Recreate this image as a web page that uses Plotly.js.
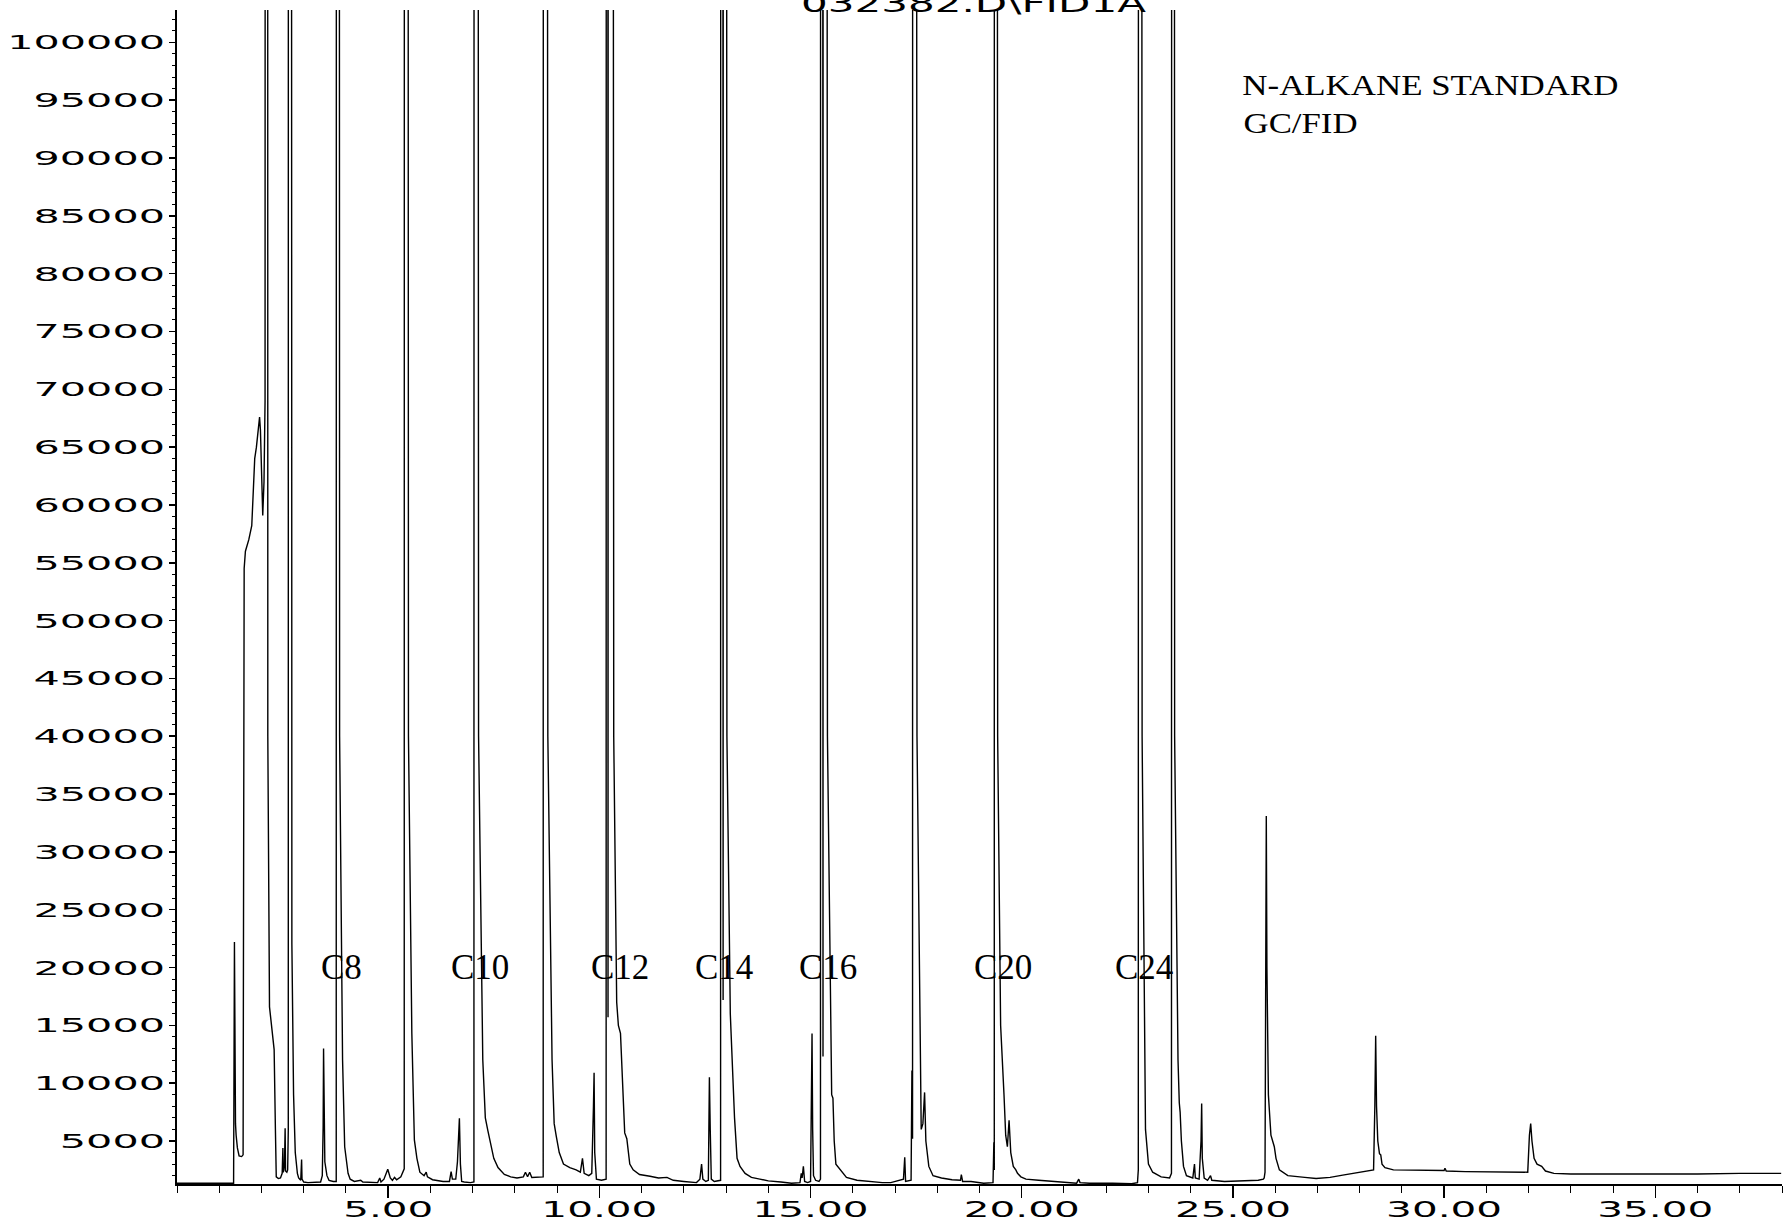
<!DOCTYPE html>
<html>
<head>
<meta charset="utf-8">
<script src="https://cdn.plot.ly/plotly-3.0.1.min.js"></script>
<style>
html,body{margin:0;padding:0;background:#fff;}
#chart{width:1785px;height:1225px;}
</style>
</head>
<body>
<div id="chart"></div>
<script>
// Retention time (min)
const retentionTime = [
0.00,1.34,1.36,1.375,1.385,1.40,1.43,1.47,1.53,1.565,1.58,1.59,1.62,1.70,1.77,1.80,1.84,1.88,1.93,1.955,1.975,2.00,2.03,2.06,2.085,2.125,2.15,2.19,2.30,2.33,2.35,
2.40,2.45,2.49,2.50,2.507,2.515,2.53,2.545,2.56,2.57,2.60,2.62,2.635,2.645,2.70,2.72,2.76,2.80,2.85,2.88,2.93,2.95,2.96,3.00,3.10,3.30,3.40,3.44,3.46,3.47,3.48,3.50,3.55,3.60,3.70,
3.77,3.79,3.85,3.92,3.97,4.05,4.10,4.20,4.35,4.40,4.60,4.75,4.80,4.83,4.90,4.99,5.05,5.10,5.15,5.20,5.30,5.38,
5.40,5.48,5.56,5.62,5.68,5.75,5.85,5.90,5.93,6.05,6.30,6.45,6.49,6.52,6.60,6.64,6.686,6.71,6.74,6.80,6.95,7.03,
7.05,7.14,7.24,7.30,7.36,7.42,7.50,7.60,7.75,7.90,8.05,8.20,8.25,8.30,8.35,8.40,8.60,8.67,
8.69,8.78,8.88,8.93,8.98,9.05,9.15,9.30,9.45,9.55,9.60,9.64,9.75,9.82,9.86,9.875,9.89,9.93,10.05,10.16,
10.18,10.205,10.23,10.34,10.41,10.45,10.50,10.55,10.60,10.65,10.72,10.80,10.95,11.20,11.40,11.60,11.75,12.00,12.30,12.38,12.42,12.45,12.52,12.58,12.605,12.625,12.65,12.72,12.87,
12.89,12.93,12.95,13.02,13.10,13.16,13.20,13.26,13.33,13.45,13.60,13.80,14.00,14.30,14.55,14.75,14.78,14.80,14.83,14.86,14.93,15.00,15.02,15.035,15.05,15.07,15.12,15.20,15.235,
15.25,15.295,15.31,15.40,15.50,15.53,15.56,15.60,15.66,15.72,15.85,16.10,16.40,16.70,16.90,17.00,17.20,17.23,17.25,17.38,17.40,17.415,
17.43,17.52,17.62,17.66,17.70,17.73,17.80,17.90,18.10,18.35,18.55,18.57,18.60,18.80,19.10,19.32,19.34,19.35,
19.36,19.43,19.50,19.58,19.62,19.66,19.70,19.74,19.80,19.86,19.90,19.98,20.10,20.40,20.80,21.30,21.35,21.38,21.60,21.90,22.10,22.15,22.60,22.74,22.76,
22.78,22.85,22.93,23.00,23.10,23.30,23.50,23.545,
23.575,23.62,23.70,23.73,23.75,23.78,23.83,23.90,24.05,24.09,24.11,24.20,24.245,24.26,24.275,24.32,24.40,24.47,24.50,24.80,25.20,25.60,25.72,
25.74,25.76,25.775,25.79,25.805,25.84,25.90,25.95,25.98,26.02,26.10,26.30,26.50,26.70,26.97,27.30,27.60,27.90,28.20,28.33,28.36,28.38,28.40,28.43,28.47,28.50,28.53,28.60,28.80,29.50,
30.00,30.02,30.05,30.50,31.20,31.90,31.98,32.02,32.05,32.08,32.13,32.20,32.31,32.40,32.60,33.00,34.00,35.00,36.00,37.00,37.98
];
// FID signal (counts); off-scale peaks given large estimated apex values
const fidSignal = [
1350,1350,22200,9000,6500,5500,4400,3700,3650,3800,40000,54500,56000,57000,58200,61000,64000,65000,67000,67600,66500,62000,59100,62000,69000,900000,40000,16600,12900,6000,1900,
1750,1800,2200,3600,4400,2300,2500,3000,6100,2400,2300,2500,6000,900000,60000,22000,9000,4000,2200,1800,1600,3400,1700,1450,1400,1400,1450,2000,6200,13000,6000,3200,2000,1600,1500,
1500,900000,40000,12000,4500,2200,1700,1500,1600,1450,1400,1400,1800,1450,1700,2550,1800,1600,1850,1650,1900,2600,
900000,40000,14300,5100,3500,2300,2000,2300,1900,1650,1500,1500,2350,1700,1700,3200,6960,3000,1500,1450,1400,1450,
900000,40000,12000,7000,5900,4800,3500,2700,2100,1900,1800,1900,2300,1900,2300,1850,1850,1900,
900000,40000,12000,6500,5400,4000,3000,2700,2500,2300,3500,2200,2000,2200,8000,10900,4000,1700,1600,1700,
900000,15700,900000,40000,17000,15000,14300,10000,5700,5200,3000,2500,2100,1950,1800,1850,1600,1500,1400,1700,3000,1700,1500,1600,10500,6000,1700,1500,1600,
900000,17200,900000,40000,16000,10800,7000,3500,2800,2200,1850,1700,1550,1450,1350,1400,2200,1800,2800,1500,1400,1500,8000,14300,6000,2000,1600,1500,1700,
900000,12300,900000,40000,9000,8700,5000,3000,2700,2400,1850,1600,1500,1400,1400,1500,1700,3600,1500,1600,11100,5200,
900000,40000,6000,6500,9200,5000,2800,2000,1800,1650,1600,2100,1500,1500,1350,1400,4900,2500,
900000,40000,15000,9000,5500,4500,6800,4000,2800,2500,2200,1900,1700,1600,1500,1350,1700,1400,1350,1350,1400,1350,1300,1400,2500,
900000,40000,6000,3000,2300,1900,1800,2200,
900000,40000,12000,8300,7500,5000,2800,2000,1800,3000,1800,1700,5000,8250,3500,1800,1600,2000,1600,1500,1550,1600,1700,
1800,2300,20000,33100,20000,9000,5500,4800,4500,3500,2500,2000,1950,1850,1750,1850,2050,2250,2400,2500,8000,14100,8000,5000,3900,3800,3000,2700,2500,2450,
2450,2650,2400,2350,2300,2250,2300,5500,6500,5000,3500,3000,2800,2400,2200,2150,2150,2120,2150,2200,2200
];
// Peak labels
const peakLabels = ["C8","C10","C12","C14","C16","C20","C24"];
const peakLabelTime = [3.90,7.175,10.49,12.96,15.42,19.56,22.90];
const peakLabelLevel = [20000,20000,20000,20000,20000,20000,20000];
// Axis ticks
const xTickValues = [5,10,15,20,25,30,35];
const xTickLabels = ["5.00","10.00","15.00","20.00","25.00","30.00","35.00"];
const fileTitle = "032382.D\\FID1A";
const noteLines = ["N-ALKANE STANDARD","GC/FID"];

const trace = {
  x: retentionTime, y: fidSignal, type: 'scatter', mode: 'lines',
  line: {color: '#000000', width: 1.4}, hoverinfo: 'skip'
};

const annotations = [];
for (let i = 0; i < peakLabels.length; i++) {
  annotations.push({
    x: peakLabelTime[i], y: peakLabelLevel[i], xref: 'x', yref: 'y',
    text: peakLabels[i], showarrow: false, xanchor: 'center', yanchor: 'middle',
    font: {family: 'Liberation Serif, serif', size: 35, color: '#000'}
  });
}
annotations.push({
  x: 0.496, y: 1.005, xref: 'paper', yref: 'paper', text: fileTitle, showarrow: false,
  xanchor: 'center', yanchor: 'middle',
  font: {family: 'DejaVu Sans, sans-serif', size: 24, color: '#000'}
});
annotations.push({
  x: 0.7807, y: 0.9358, xref: 'paper', yref: 'paper', text: noteLines[0], showarrow: false,
  xanchor: 'center', yanchor: 'middle',
  font: {family: 'Liberation Serif, serif', size: 29, color: '#000'}
});
annotations.push({
  x: 0.6997, y: 0.9037, xref: 'paper', yref: 'paper', text: noteLines[1], showarrow: false,
  xanchor: 'center', yanchor: 'middle',
  font: {family: 'Liberation Serif, serif', size: 29, color: '#000'}
});

const layout = {
  width: 1785, height: 1225,
  margin: {l: 177, r: 3, t: 10, b: 41, pad: 0},
  paper_bgcolor: '#ffffff', plot_bgcolor: '#ffffff',
  showlegend: false,
  xaxis: {
    range: [0, 38], tickmode: 'array', tickvals: xTickValues, ticktext: xTickLabels,
    ticks: 'outside', ticklen: 12, tickwidth: 1.5, tickcolor: '#000',
    ticklabelstandoff: -7,
    showline: true, linecolor: '#000', linewidth: 2, showgrid: false, zeroline: false,
    minor: {tickmode: 'linear', tick0: 0, dtick: 1, ticks: 'outside', ticklen: 7, tickwidth: 1, tickcolor: '#000'},
    tickfont: {family: 'DejaVu Sans, sans-serif', size: 22, color: '#000'}
  },
  yaxis: {
    range: [1280, 102800], tickmode: 'linear', tick0: 0, dtick: 5000, tickformat: 'd',
    ticks: 'outside', ticklen: 6, tickwidth: 1.5, tickcolor: '#000',
    showline: true, linecolor: '#000', linewidth: 2, showgrid: false, zeroline: false,
    minor: {tickmode: 'linear', tick0: 0, dtick: 1000, ticks: 'outside', ticklen: 3, tickwidth: 1, tickcolor: '#000'},
    tickfont: {family: 'DejaVu Sans, sans-serif', size: 20, color: '#000'}
  },
  annotations: annotations
};

function stretchText() {
  document.querySelectorAll('.ytick text').forEach(t => {
    const n = t.textContent.length;
    t.setAttribute('textLength', (n * 26.3).toFixed(1));
    t.setAttribute('lengthAdjust', 'spacingAndGlyphs');
  });
  document.querySelectorAll('.xtick text').forEach(t => {
    const s = t.textContent;
    const digits = s.replace(/[^0-9]/g, '').length;
    t.setAttribute('textLength', (digits * 26 + 12).toFixed(1));
    t.setAttribute('lengthAdjust', 'spacingAndGlyphs');
  });
  const widths = {};
  widths[fileTitle] = 345; widths[noteLines[0]] = 376; widths[noteLines[1]] = 114;
  document.querySelectorAll('text.annotation-text').forEach(t => {
    const w = widths[t.textContent];
    if (w) {
      t.setAttribute('textLength', w);
      t.setAttribute('lengthAdjust', 'spacingAndGlyphs');
    }
  });
}

Plotly.newPlot('chart', [trace], layout, {staticPlot: true, displayModeBar: false}).then(stretchText);
</script>
</body>
</html>
